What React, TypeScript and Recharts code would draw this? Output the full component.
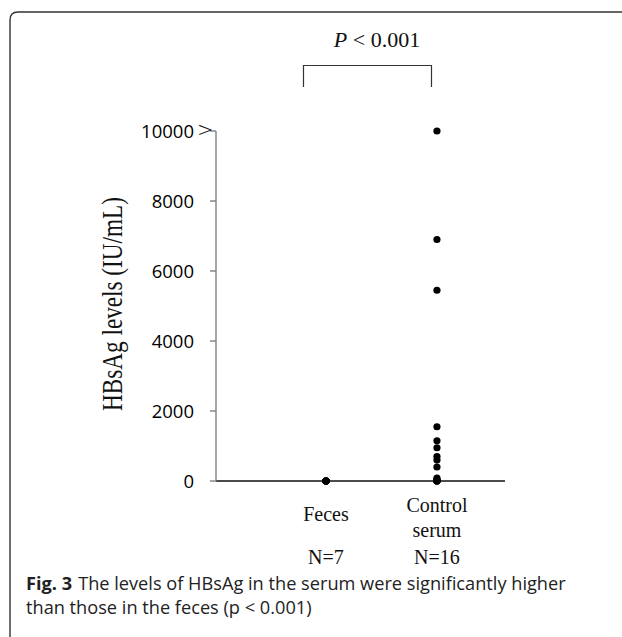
import { Scatter, ScatterChart, XAxis, YAxis } from 'recharts';

const categories = ['Feces', 'Control serum'];
const groupSizes = ['N=7', 'N=16'];
const fecesValues = [0, 0, 0, 0, 0, 0, 0];
const controlValues = [10000, 6900, 5450, 1550, 1150, 950, 700, 600, 400, 80, 30, 10, 5, 2, 1, 0];
const yTicks = [0, 2000, 4000, 6000, 8000, 10000];
const pValueText = '< 0.001';
const yLabel = 'HBsAg levels (IU/mL)';
const captionBold = 'Fig. 3';
const captionLine1 = 'The levels of HBsAg in the serum were significantly higher';
const captionLine2 = 'than those in the feces (p < 0.001)';

const fecesData = fecesValues.map((v) => ({ x: 0, y: v }));
const controlData = controlValues.map((v) => ({ x: 1, y: v }));

const W = 622;
const H = 637;
const serif = '"Liberation Serif", "Times New Roman", serif';
const sans = '"Open Sans", "Noto Sans", sans-serif';

function YTick(props: any) {
  const { x, y, payload } = props;
  const top = payload.value === 10000;
  return (
    <g>
      <text x={x - 14} y={y} dy="0.36em" textAnchor="end" fontFamily={sans} fontSize={18.5} fill="#000">
        {payload.value}
      </text>
      {top && (
        <text
          x={0}
          y={0}
          transform={`translate(${x + 5},${y}) scale(1.35,1)`}
          dy="0.3em"
          textAnchor="end"
          fontFamily={serif}
          fontSize={20}
          fill="#111"
        >
          {'>'}
        </text>
      )}
    </g>
  );
}

function XTick(props: any) {
  const { x, y, payload } = props;
  const i = payload.value as number;
  const words = categories[i].split(' ');
  const startY = words.length > 1 ? y + 31 : y + 40;
  return (
    <g fontFamily={serif} fontSize={20} fill="#111" textAnchor="middle">
      {words.map((w, k) => (
        <text key={w} x={x} y={startY + k * 25}>
          {w}
        </text>
      ))}
      <text x={x} y={y + 83}>
        {groupSizes[i]}
      </text>
    </g>
  );
}

export default function App() {
  return (
    <div style={{ position: 'absolute', left: 0, top: 0, width: W, height: H, background: '#fff' }}>
      <svg width={W} height={H} style={{ position: 'absolute', left: 0, top: 0 }}>
        <path d={`M10,${H} L10,20 Q10,12 18,12 L${W},12`} fill="none" stroke="#333" strokeWidth={1.4} />
        <text x={377} y={47} textAnchor="middle" fontFamily={serif} fontSize={22} fill="#111">
          <tspan fontStyle="italic">P</tspan> {pValueText}
        </text>
        <path d="M303.5,87 L303.5,65.5 L431.5,65.5 L431.5,87" fill="none" stroke="#333" strokeWidth={1.2} />
        <text
          x={0}
          y={0}
          transform="translate(122,304) rotate(-90) scale(0.8,1)"
          textAnchor="middle"
          fontFamily={serif}
          fontSize={29}
          fill="#111"
        >
          {yLabel}
        </text>
        <text x={26} y={590} fontFamily={sans} fontSize={18.2} fill="#222">
          <tspan fontWeight="bold">{captionBold}</tspan>
          <tspan dx={6}>{captionLine1}</tspan>
        </text>
        <text x={26} y={614} fontFamily={sans} fontSize={18.2} fill="#222">
          {captionLine2}
        </text>
      </svg>
      <div style={{ position: 'absolute', left: 0, top: 0 }}>
        <ScatterChart width={W} height={H} margin={{ top: 131, right: 117, bottom: 126, left: 0 }}>
          <XAxis
            type="number"
            dataKey="x"
            domain={[-0.991, 1.613]}
            ticks={[0, 1]}
            tick={<XTick />}
            tickLine={false}
            tickSize={0}
            tickMargin={0}
            axisLine={{ stroke: '#111', strokeWidth: 1.3 }}
            height={30}
            interval={0}
            allowDataOverflow
          />
          <YAxis
            type="number"
            dataKey="y"
            domain={[0, 10000]}
            ticks={yTicks}
            tick={<YTick />}
            tickSize={6}
            width={216}
            interval={0}
            axisLine={{ stroke: '#777', strokeWidth: 1.3 }}
            tickLine={{ stroke: '#777', strokeWidth: 1.3 }}
          />
          <Scatter data={fecesData} fill="#000" isAnimationActive={false} shape={(p: any) => <circle cx={p.cx} cy={p.cy} r={3.6} fill="#000" />} />
          <Scatter data={controlData} fill="#000" isAnimationActive={false} shape={(p: any) => <circle cx={p.cx} cy={p.cy} r={3.6} fill="#000" />} />
        </ScatterChart>
      </div>
    </div>
  );
}
